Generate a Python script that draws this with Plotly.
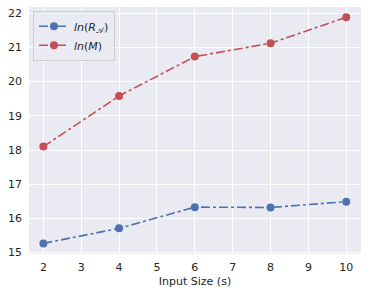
import plotly.graph_objects as go

input_size = [2, 4, 6, 8, 10]
ln_ra = [15.27, 15.71, 16.33, 16.32, 16.49]
ln_m = [18.1, 19.58, 20.73, 21.12, 21.88]
x_ticks = [2, 3, 4, 5, 6, 7, 8, 9, 10]
y_ticks = [15, 16, 17, 18, 19, 20, 21, 22]

blue = "#4C72B0"
red = "#C44E52"

fig = go.Figure()
fig.add_trace(go.Scatter(
    x=input_size, y=ln_ra, mode="lines+markers",
    name="<i>ln</i>(<i>R</i><sub>𝒜</sub>)",
    line=dict(color=blue, width=1.6, dash="dashdot"),
    marker=dict(color=blue, size=8),
))
fig.add_trace(go.Scatter(
    x=input_size, y=ln_m, mode="lines+markers",
    name="<i>ln</i>(<i>M</i>)",
    line=dict(color=red, width=1.6, dash="dashdot"),
    marker=dict(color=red, size=8),
))

fig.update_layout(
    width=368, height=295,
    margin=dict(l=29, r=7, t=7, b=41),
    paper_bgcolor="white",
    plot_bgcolor="#EAEAF2",
    font=dict(family="DejaVu Sans", size=11, color="#262626"),
    showlegend=True,
    legend=dict(
        x=0.012, y=0.985, xanchor="left", yanchor="top",
        bgcolor="rgba(234,234,242,0.8)", bordercolor="#CCCCCC", borderwidth=1,
        font=dict(size=11),
        itemwidth=30,
        tracegroupgap=0,
    ),
    xaxis=dict(
        range=[1.62, 10.39], tickvals=x_ticks, automargin=False,
        showgrid=True, gridcolor="white", gridwidth=1.2,
        zeroline=False, showline=False, ticks="",
        ticklabelstandoff=5,
        title=dict(text="Input Size (s)", font=dict(size=11), standoff=4),
    ),
    yaxis=dict(
        range=[14.96, 22.18], tickvals=y_ticks, automargin=False,
        showgrid=True, gridcolor="white", gridwidth=1.2,
        zeroline=False, showline=False, ticks="",
        ticklabelstandoff=6,
    ),
)

fig.write_html(
    "out.html",
    config={"displayModeBar": False},
    post_script="document.body.style.margin='0';document.body.style.overflow='hidden';",
)
